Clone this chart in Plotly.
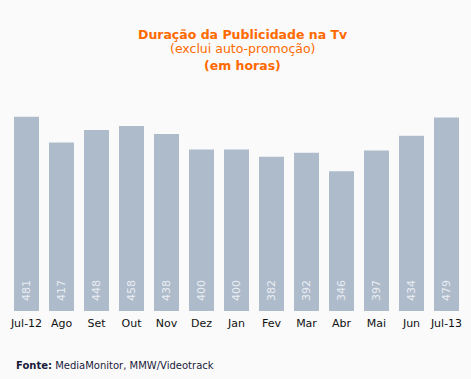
import plotly.graph_objects as go

months = ["Jul-12", "Ago", "Set", "Out", "Nov", "Dez", "Jan", "Fev", "Mar", "Abr", "Mai", "Jun", "Jul-13"]
hours = [481, 417, 448, 458, 438, 400, 400, 382, 392, 346, 397, 434, 479]

title_line1 = "Duração da Publicidade na Tv"
title_line2 = "(exclui auto-promoção)"
title_line3 = "(em horas)"
source_label = "Fonte:"
source_text = "MediaMonitor, MMW/Videotrack"

bar_color = "#aebbcb"
orange = "#ff6a00"
bg = "#fafafa"
font_family = "DejaVu Sans"

W, H = 471, 379
ML, MR, MT, MB = 9, 7, 109, 68
pw = W - ML - MR
ph = H - MT - MB


def px_x(x):
    return (x - ML) / pw


def px_y(y):
    return (H - MB - y) / ph


fig = go.Figure()
fig.add_trace(go.Bar(
    x=months, y=hours,
    marker=dict(color=bar_color, line=dict(width=0)),
    hoverinfo="x+y",
))

for m, v in zip(months, hours):
    fig.add_annotation(
        x=m, y=0, xref="x", yref="y",
        text=str(v), textangle=-90, showarrow=False,
        xanchor="center", yanchor="bottom", yshift=8,
        font=dict(family=font_family, size=11, color="#e9edf2"),
    )

titles = [
    (title_line1, True, 34.5, 12.5),
    (title_line2, False, 49, 12.5),
    (title_line3, True, 65.5, 12.5),
]
for txt, bold, ypx, sz in titles:
    fig.add_annotation(
        x=px_x(243), y=px_y(ypx), xref="paper", yref="paper",
        text=f"<b>{txt}</b>" if bold else txt,
        showarrow=False, xanchor="center", yanchor="middle",
        font=dict(family=font_family, size=sz, color=orange),
    )

fig.add_annotation(
    x=px_x(14), y=px_y(365), xref="paper", yref="paper",
    text=f"<b>{source_label}</b> {source_text}",
    showarrow=False, xanchor="left", yanchor="middle",
    font=dict(family=font_family, size=10, color="#1a1a3a"),
)

fig.update_layout(
    width=W, height=H,
    paper_bgcolor=bg, plot_bgcolor=bg,
    margin=dict(l=ML, r=MR, t=MT, b=MB),
    bargap=0.286,
    showlegend=False,
    xaxis=dict(
        showgrid=False, zeroline=False, showline=False, ticks="",
        tickfont=dict(family=font_family, size=11, color="#111111"),
        ticklabelstandoff=4,
        range=[-0.5, 12.5],
    ),
    yaxis=dict(
        visible=False, range=[0, 500], showgrid=False, zeroline=False,
    ),
    font=dict(family=font_family),
)

fig.write_html("out.html", config={"displayModeBar": False})

with open("out.html", "r", encoding="utf-8") as f:
    html = f.read()
html = html.replace("<head>", "<head><style>html,body{margin:0;padding:0;background:#fafafa;}</style>", 1)
with open("out.html", "w", encoding="utf-8") as f:
    f.write(html)
